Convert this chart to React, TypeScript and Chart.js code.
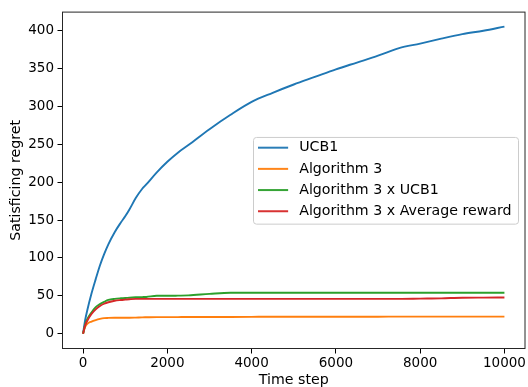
import React, { useEffect, useRef } from "react";
import { Chart, registerables } from "chart.js";

Chart.register(...registerables);

// ---- data ----
const timeSteps = [0, 50, 100, 200, 300, 400, 500, 600, 750, 900, 1000, 1100, 1250, 1400, 1500, 1750, 2000, 2250, 2500, 3000, 3500, 4000, 4500, 5000, 5500, 6000, 6500, 7000, 7500, 8000, 8500, 9000, 9500, 10000];
const ucb1 = [0, 18, 31, 53, 72, 90, 105, 118, 134, 147, 155, 164, 179, 191, 197, 213, 227, 239, 249, 270, 289, 306, 318, 329, 339, 349, 358, 367, 377, 383, 389.5, 395.5, 400, 405.5];
const algorithm3 = [0, 9, 13, 16, 18, 19.5, 20.5, 20.8, 21, 21, 21, 21, 21.2, 21.5, 21.6, 21.8, 21.8, 21.9, 22, 22, 22.1, 22.2, 22.3, 22.3, 22.4, 22.4, 22.4, 22.4, 22.5, 22.5, 22.5, 22.5, 22.5, 22.5];
const algorithm3xUcb1 = [0, 12, 19, 28, 35, 39, 42, 44.5, 46, 46.7, 47, 47.5, 48, 48.3, 48.5, 50, 50, 50.2, 50.5, 52.5, 54, 54, 54, 54, 54, 54, 54, 54, 54, 54, 54, 54, 54, 54];
const algorithm3xAvgReward = [0, 11, 17, 26, 32, 36.5, 39.5, 41.5, 43.5, 44.5, 45, 45.5, 46, 46, 46, 46, 46, 46, 46, 46, 46, 46, 46, 46, 46, 46, 46, 46, 46, 46.3, 46.6, 47.5, 47.6, 47.7];

const seriesLabels = ["UCB1", "Algorithm 3", "Algorithm 3 x UCB1", "Algorithm 3 x Average reward"];
const seriesValues = [ucb1, algorithm3, algorithm3xUcb1, algorithm3xAvgReward];
const seriesColors = ["#1f77b4", "#ff7f0e", "#2ca02c", "#d62728"];

const xTicks = [0, 2000, 4000, 6000, 8000, 10000];
const yTicks = [0, 50, 100, 150, 200, 250, 300, 350, 400];

const xTitle = "Time step";
const yTitle = "Satisficing regret";

const FONT = "'DejaVu Sans', sans-serif";
const LINE_W = 1.9;
const TICK_FONT = 13.5;
const LABEL_FONT = 14.2;

function makeHandle(color: string) {
  const c = document.createElement("canvas");
  c.width = 34;
  c.height = 4;
  const ctx = c.getContext("2d")!;
  ctx.strokeStyle = color;
  ctx.lineWidth = LINE_W;
  ctx.beginPath();
  ctx.moveTo(0, 2);
  ctx.lineTo(30, 2);
  ctx.stroke();
  return c;
}

const LEG_W = 265;
const LEG_H = 86.7;

function legendFrameBox(chart: any) {
  const ca = chart.chartArea;
  const right = ca.right - 7.5;
  const left = right - LEG_W;
  const top = (ca.top + ca.bottom) / 2 - LEG_H / 2;
  return { left, top };
}

const framePlugin = {
  id: "mplFrame",
  afterLayout(chart: any) {
    const lg = chart.legend;
    if (!lg) return;
    const { left, top } = legendFrameBox(chart);
    const half = LABEL_FONT / 2;
    lg.left = left - 1.9;
    lg.top = top + 10.7 - half - 7;
    lg.right = lg.left + LEG_W;
    lg.bottom = lg.top + 200;
    lg.width = LEG_W;
    lg.height = 200;
  },
  beforeDraw(chart: any) {
    const ctx = chart.ctx;
    const { left, top } = legendFrameBox(chart);
    ctx.save();
    ctx.beginPath();
    (ctx as any).roundRect(left + 0.5, top + 0.5, LEG_W, LEG_H, 3);
    ctx.fillStyle = "rgba(255,255,255,0.8)";
    ctx.fill();
    ctx.strokeStyle = "#cccccc";
    ctx.lineWidth = 1;
    ctx.stroke();
    ctx.restore();
  },
  afterDatasetsDraw(chart: any) {
    const ctx = chart.ctx;
    const ca = chart.chartArea;
    ctx.save();
    ctx.strokeStyle = "#262626";
    ctx.lineWidth = 1;
    ctx.strokeRect(ca.left + 0.5, ca.top + 0.5, ca.right - ca.left - 1, ca.bottom - ca.top - 1);
    ctx.restore();
  },
};

export default function App() {
  const ref = useRef<HTMLCanvasElement | null>(null);

  useEffect(() => {
    document.body.style.margin = "0";
    const canvas = ref.current!;
    const datasets = seriesLabels.map((label, i) => ({
      label,
      data: timeSteps.map((t, j) => ({ x: t, y: seriesValues[i][j] })),
      borderColor: seriesColors[i],
      backgroundColor: seriesColors[i],
      borderWidth: LINE_W,
      pointRadius: 0,
      pointHoverRadius: 0,
      cubicInterpolationMode: "monotone" as const,
      fill: false,
      order: seriesLabels.length - i,
    }));

    const handles = seriesColors.map((c) => makeHandle(c));

    const chart = new Chart(canvas, {
      type: "line",
      data: { datasets },
      plugins: [framePlugin],
      options: {
        responsive: false,
        animation: false,
        events: [],
        layout: { padding: { top: 5, right: 2, left: 0, bottom: 0 } },
        scales: {
          x: {
            type: "linear",
            min: -500,
            max: 10500,
            afterBuildTicks: (axis: any) => {
              axis.ticks = xTicks.map((v) => ({ value: v }));
            },
            afterFit: (scale: any) => {
              scale.height = 38;
            },
            grid: {
              display: true,
              drawOnChartArea: false,
              drawTicks: true,
              tickLength: 4.5,
              tickWidth: 1,
              tickColor: "#000",
            },
            border: { display: false },
            ticks: {
              color: "#000",
              font: { family: FONT, size: TICK_FONT },
              padding: 2,
              maxRotation: 0,
              autoSkip: false,
              callback: (v: any) => String(v),
            },
            title: {
              display: true,
              text: xTitle,
              color: "#000",
              font: { family: FONT, size: LABEL_FONT, lineHeight: 1 },
              padding: { top: 0, bottom: 0 },
            },
          },
          y: {
            type: "linear",
            min: -20.25,
            max: 425.25,
            afterBuildTicks: (axis: any) => {
              axis.ticks = yTicks.map((v) => ({ value: v }));
            },
            afterFit: (scale: any) => {
              scale.width = 62;
            },
            grid: {
              display: true,
              drawOnChartArea: false,
              drawTicks: true,
              tickLength: 4.5,
              tickWidth: 1,
              tickColor: "#000",
            },
            border: { display: false },
            ticks: {
              color: "#000",
              font: { family: FONT, size: TICK_FONT },
              padding: 3.5,
              autoSkip: false,
              callback: (v: any) => String(v),
            },
            title: {
              display: true,
              text: yTitle,
              color: "#000",
              font: { family: FONT, size: LABEL_FONT, lineHeight: 1 },
              padding: { top: 9, bottom: 0 },
            },
          },
        },
        plugins: {
          tooltip: { enabled: false },
          title: { display: false },
          legend: {
            display: true,
            position: "chartArea" as any,
            align: "start",
            labels: {
              color: "#000",
              font: { family: FONT, size: LABEL_FONT },
              padding: 7,
              usePointStyle: true,
              pointStyleWidth: 34,
              sort: (a: any, b: any) => a.datasetIndex - b.datasetIndex,
              generateLabels: (ch: any) => {
                const base = Chart.defaults.plugins.legend.labels.generateLabels(ch);
                return base.map((item: any) => ({
                  ...item,
                  pointStyle: handles[item.datasetIndex],
                  lineWidth: 0,
                }));
              },
            },
          },
        },
      },
    });

    return () => chart.destroy();
  }, []);

  return (
    <div style={{ position: "absolute", left: 0, top: 0, width: 528, height: 387 }}>
      <canvas ref={ref} width={528} height={387} style={{ display: "block", width: 528, height: 387 }} />
    </div>
  );
}
